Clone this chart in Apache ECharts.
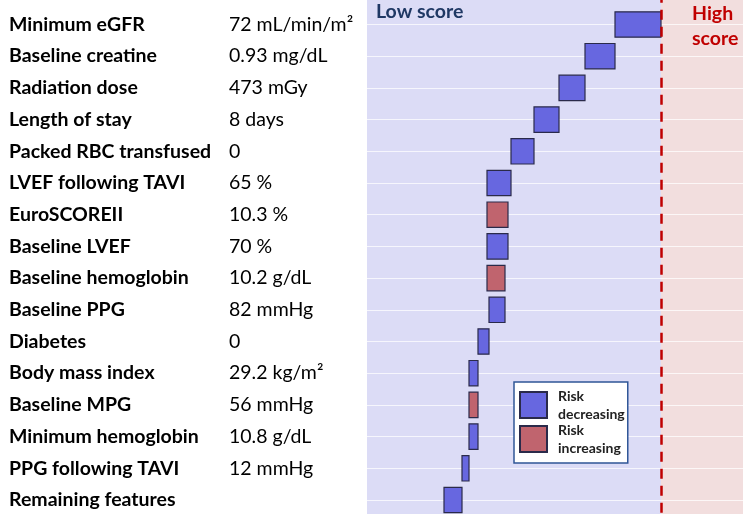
<!DOCTYPE html>
<html>
<head>
<meta charset="utf-8">
<script src="https://cdn.jsdelivr.net/npm/echarts@6/dist/echarts.min.js"></script>
<style>
html,body{margin:0;padding:0;background:#fff;}
#chart{width:743px;height:514px;}
</style>
</head>
<body>
<div id="chart"></div>
<script>
const features = ["Minimum eGFR","Baseline creatine","Radiation dose","Length of stay","Packed RBC transfused","LVEF following TAVI","EuroSCOREII","Baseline LVEF","Baseline hemoglobin","Baseline PPG","Diabetes","Body mass index","Baseline MPG","Minimum hemoglobin","PPG following TAVI","Remaining features"];
const featureValues = ["72 mL/min/m\u00B2","0.93 mg/dL","473 mGy","8 days","0","65 %","10.3 %","70 %","10.2 g/dL","82 mmHg","0","29.2 kg/m\u00B2","56 mmHg","10.8 g/dL","12 mmHg",""];
const contributions = [-0.46,-0.30,-0.26,-0.25,-0.23,-0.24,0.21,-0.21,0.18,-0.16,-0.11,-0.09,0.09,-0.09,-0.07,-0.18];
const baseValue = 0;          // decision threshold
const scoreRange = [-2.94, 0.82];
const zones = [[-2.94, 0], [0, 0.82]];
const legendNames = ["Risk decreasing","Risk increasing"];

const decData = [], incData = [];
let cum = baseValue;
contributions.forEach((c, i) => {
  const start = cum, end = cum + c;
  (c < 0 ? decData : incData).push([i, start, end]);
  cum = end;
});

function renderBar(params, api) {
  const i = api.value(0), a = api.value(1), b = api.value(2);
  const p1 = api.coord([Math.min(a, b), i]);
  const p2 = api.coord([Math.max(a, b), i]);
  const h = api.size([0, 1])[1] * 0.80;
  return {type: 'rect', shape: {x: p1[0], y: p1[1] - h / 2, width: p2[0] - p1[0], height: h}, style: api.style()};
}
const zoneColors = ['#DCDCF6', '#F2DEDE'];
function renderZone(params, api) {
  const cs = params.coordSys;
  const x1 = api.coord([api.value(0), 0])[0];
  const x2 = api.coord([api.value(1), 0])[0];
  return {type: 'rect', shape: {x: x1, y: cs.y, width: x2 - x1, height: cs.height}, style: {fill: zoneColors[params.dataIndex]}};
}

const chart = echarts.init(document.getElementById('chart'));
const FONT = 'Lato';
chart.setOption({
  animation: false,
  grid: {left: 367, right: 0, top: -7.2, height: 538.9, outerBoundsMode: 'none', containLabel: false},
  xAxis: {type: 'value', min: scoreRange[0], max: scoreRange[1], show: false},
  yAxis: {
    type: 'value', inverse: true, min: -1, max: 16, interval: 1,
    axisLine: {show: false}, axisTick: {show: false},
    splitLine: {show: true, lineStyle: {color: 'rgba(255,255,255,0.75)', width: 1}},
    axisLabel: {
      align: 'left', margin: 358,
      formatter: v => (v >= 0 && v < features.length) ? '{n|' + features[v] + '}{v|' + (featureValues[v] || ' ') + '}' : '',
      rich: {
        n: {fontFamily: FONT, fontWeight: 'bold', fontSize: 19.5, color: '#000', width: 220},
        v: {fontFamily: FONT, fontSize: 19.5, color: '#000'}
      }
    }
  },
  legend: {
    orient: 'vertical', left: 514, top: 382,
    data: legendNames,
    backgroundColor: '#fff', borderColor: '#2F5597', borderWidth: 1.5,
    padding: [5, 3, 6, 5],
    itemWidth: 27, itemHeight: 26, itemGap: -2,
    icon: 'rect',
    formatter: n => n.replace(' ', '\n'),
    textStyle: {fontFamily: FONT, fontWeight: 'bold', fontSize: 14, color: '#222', lineHeight: 18, padding: [0, 0, 0, 6]}
  },
  graphic: [
    {type: 'text', left: 376, top: 2, style: {text: 'Low score', font: 'bold 19.5px Lato', fill: '#1F3864'}},
    {type: 'text', x: 692, y: 1, style: {text: 'High\nscore', font: 'bold 19.5px Lato', fill: '#C00000', textAlign: 'left', lineHeight: 25}}
  ],
  series: [
    {type: 'custom', name: 'zones', z: -1, silent: true, renderItem: renderZone, data: zones, encode: {x: [0, 1]}},
    {type: 'custom', name: legendNames[0], renderItem: renderBar, data: decData, encode: {x: [1, 2], y: 0},
     itemStyle: {color: '#6767E0', borderColor: '#2A2A4A', borderWidth: 1.2},
     markLine: {silent: true, symbol: ['none', 'none'], label: {show: false},
       lineStyle: {color: '#C00000', type: [10, 7], width: 2.5}, data: [{xAxis: baseValue}]}},
    {type: 'custom', name: legendNames[1], renderItem: renderBar, data: incData, encode: {x: [1, 2], y: 0},
     itemStyle: {color: '#C0646E', borderColor: '#2A2A4A', borderWidth: 1.2}}
  ]
});
</script>
</body>
</html>
